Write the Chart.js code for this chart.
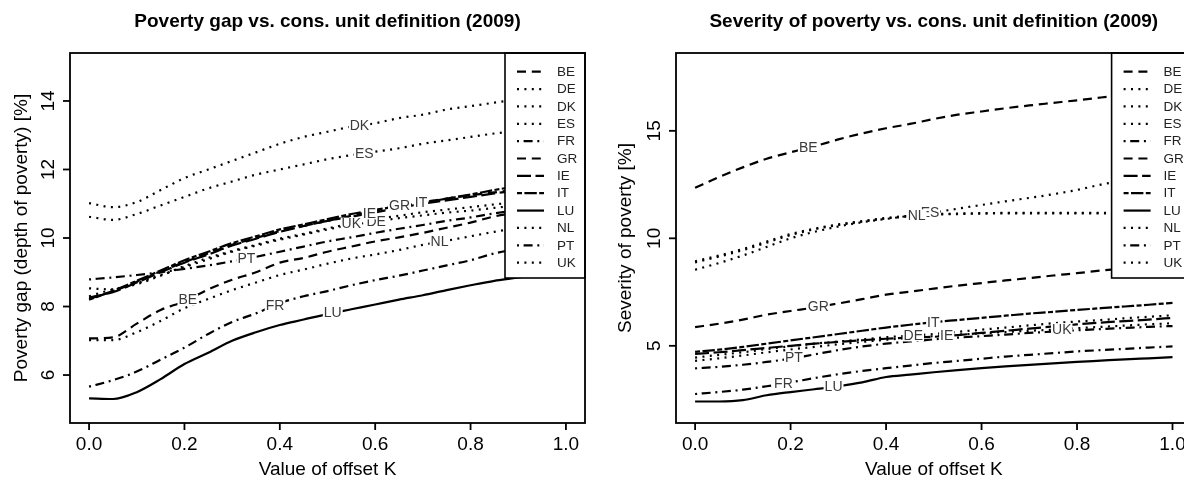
<!DOCTYPE html>
<html lang="en">
<head>
<meta charset="UTF-8">
<title>Poverty gap and severity of poverty vs. cons. unit definition (2009)</title>
<script src="https://cdn.jsdelivr.net/npm/chart.js"></script>
<style>
  html, body { margin: 0; padding: 0; background: #fff; width: 1184px; height: 483px; overflow: hidden; }
  canvas { position: absolute; top: 0; }
  #gapChart { left: 0; }
  #sevChart { left: 592px; }
</style>
</head>
<body>
<canvas id="gapChart" width="592" height="483"></canvas>
<canvas id="sevChart" width="620" height="483"></canvas>

<script>
// value of offset K (x axis)
const kValues = [0, 0.05, 0.1, 0.15, 0.2, 0.25, 0.3, 0.35, 0.4, 0.45, 0.5,
                 0.55, 0.6, 0.65, 0.7, 0.75, 0.8, 0.85, 0.9, 0.95, 1];
const kTicks = [0, 0.2, 0.4, 0.6, 0.8, 1.0];

const countries = ['BE', 'DE', 'DK', 'ES', 'FR', 'GR', 'IE', 'IT', 'LU', 'NL', 'PT', 'UK'];
const lineTypes = ['dashed', 'dotted', 'dotted', 'dotted', 'dotdash', 'dashed',
                   'longdash', 'twodash', 'solid', 'dotted', 'dotdash', 'dotted'];

// poverty gap (depth of poverty) [%]
const gapBE = [7.07, 7.1, 7.5, 7.9, 8.15, 8.5, 8.78, 9.0, 9.28, 9.42, 9.6, 9.75, 9.9, 10.02, 10.15, 10.3, 10.45, 10.63, 10.75, 10.87, 11.0];
const gapDE = [8.53, 8.5, 8.68, 8.92, 9.15, 9.38, 9.6, 9.78, 9.95, 10.1, 10.25, 10.38, 10.48, 10.58, 10.66, 10.74, 10.8, 10.88, 10.95, 11.02, 11.1];
const gapDK = [11.02, 10.9, 11.05, 11.4, 11.75, 12.0, 12.25, 12.5, 12.75, 12.95, 13.1, 13.25, 13.35, 13.5, 13.6, 13.75, 13.85, 13.95, 14.05, 14.15, 14.25];
const gapES = [10.62, 10.53, 10.7, 10.95, 11.2, 11.45, 11.65, 11.85, 12.0, 12.15, 12.3, 12.42, 12.52, 12.62, 12.75, 12.85, 12.95, 13.05, 13.12, 13.2, 13.28];
const gapFR = [5.66, 5.85, 6.1, 6.45, 6.8, 7.2, 7.55, 7.8, 8.1, 8.3, 8.45, 8.62, 8.77, 8.9, 9.05, 9.2, 9.35, 9.55, 9.68, 9.8, 9.92];
const gapGR = [8.22, 8.45, 8.72, 9.02, 9.3, 9.55, 9.8, 10.0, 10.2, 10.35, 10.5, 10.65, 10.8, 10.95, 11.05, 11.15, 11.25, 11.33, 11.42, 11.5, 11.6];
const gapIE = [8.26, 8.42, 8.7, 9.0, 9.28, 9.52, 9.78, 9.98, 10.18, 10.35, 10.5, 10.62, 10.75, 10.88, 11.0, 11.1, 11.2, 11.3, 11.4, 11.5, 11.6];
const gapIT = [8.2, 8.45, 8.75, 9.05, 9.35, 9.6, 9.85, 10.05, 10.25, 10.4, 10.55, 10.7, 10.82, 10.93, 11.03, 11.15, 11.27, 11.4, 11.52, 11.63, 11.75];
const gapLU = [5.32, 5.3, 5.5, 5.88, 6.32, 6.65, 7.0, 7.25, 7.46, 7.62, 7.78, 7.92, 8.06, 8.2, 8.33, 8.48, 8.62, 8.75, 8.85, 8.98, 9.1];
const gapNL = [7.02, 7.02, 7.25, 7.58, 7.95, 8.22, 8.48, 8.7, 8.92, 9.08, 9.25, 9.4, 9.52, 9.65, 9.8, 9.92, 10.05, 10.18, 10.3, 10.42, 10.52];
const gapPT = [8.79, 8.85, 8.92, 9.0, 9.1, 9.2, 9.32, 9.45, 9.6, 9.75, 9.9, 10.02, 10.15, 10.27, 10.38, 10.5, 10.6, 10.72, 10.82, 10.92, 11.02];
const gapUK = [8.3, 8.5, 8.65, 8.9, 9.18, 9.42, 9.62, 9.8, 9.98, 10.12, 10.28, 10.42, 10.55, 10.65, 10.75, 10.83, 10.9, 10.98, 11.05, 11.12, 11.2];
const gapTicks = [6, 8, 10, 12, 14];
// where each country's name sits on its curve (K value)
const gapLabelK = [0.207, 0.602, 0.567, 0.577, 0.39, 0.651, 0.588, 0.696, 0.511, 0.735, 0.33, 0.55];

// severity of poverty [%]
const sevBE = [12.35, 12.85, 13.3, 13.7, 14.0, 14.28, 14.6, 14.88, 15.12, 15.32, 15.55, 15.75, 15.9, 16.05, 16.18, 16.3, 16.42, 16.55, 16.68, 16.8, 16.92];
const sevDE = [4.45, 4.58, 4.7, 4.85, 4.98, 5.1, 5.2, 5.3, 5.4, 5.47, 5.55, 5.65, 5.75, 5.85, 5.95, 6.05, 6.13, 6.2, 6.28, 6.35, 6.42];
const sevDK = [8.88, 9.15, 9.45, 9.8, 10.15, 10.42, 10.62, 10.78, 10.92, 11.02, 11.1, 11.13, 11.15, 11.16, 11.16, 11.16, 11.16, 11.16, 11.15, 11.14, 11.13];
const sevES = [8.54, 8.85, 9.2, 9.6, 10.0, 10.3, 10.55, 10.75, 10.9, 11.05, 11.2, 11.38, 11.55, 11.72, 11.88, 12.05, 12.25, 12.5, 12.7, 12.88, 13.05];
const sevFR = [2.76, 2.85, 2.96, 3.12, 3.3, 3.5, 3.68, 3.83, 3.96, 4.08, 4.2, 4.3, 4.4, 4.5, 4.58, 4.66, 4.74, 4.8, 4.86, 4.92, 4.97];
const sevGR = [5.87, 6.03, 6.22, 6.45, 6.62, 6.78, 6.97, 7.17, 7.38, 7.52, 7.66, 7.8, 7.92, 8.04, 8.15, 8.27, 8.38, 8.5, 8.6, 8.7, 8.8];
const sevIE = [4.62, 4.7, 4.8, 4.9, 5.0, 5.1, 5.18, 5.26, 5.33, 5.38, 5.42, 5.5, 5.6, 5.7, 5.8, 5.9, 6.0, 6.08, 6.15, 6.22, 6.3];
const sevIT = [4.72, 4.82, 4.95, 5.1, 5.25, 5.4, 5.55, 5.7, 5.85, 5.98, 6.1, 6.2, 6.3, 6.4, 6.5, 6.58, 6.67, 6.75, 6.83, 6.91, 7.0];
const sevLU = [2.41, 2.41, 2.47, 2.7, 2.85, 2.98, 3.12, 3.3, 3.55, 3.66, 3.77, 3.87, 3.96, 4.04, 4.11, 4.18, 4.25, 4.31, 4.37, 4.42, 4.47];
const sevNL = [8.93, 9.2, 9.5, 9.85, 10.2, 10.45, 10.65, 10.8, 10.95, 11.05, 11.12, 11.15, 11.17, 11.18, 11.18, 11.18, 11.18, 11.18, 11.17, 11.16, 11.15];
const sevPT = [3.95, 4.02, 4.12, 4.25, 4.4, 4.6, 4.8, 4.97, 5.1, 5.2, 5.3, 5.38, 5.45, 5.52, 5.6, 5.66, 5.72, 5.78, 5.83, 5.88, 5.92];
const sevUK = [4.3, 4.42, 4.55, 4.7, 4.83, 4.95, 5.07, 5.18, 5.28, 5.37, 5.45, 5.52, 5.58, 5.64, 5.7, 5.75, 5.82, 5.88, 5.94, 6.0, 6.05];
const sevTicks = [5, 10, 15];
const sevLabelK = [0.237, 0.457, null, 0.492, 0.185, 0.258, 0.527, 0.499, 0.29, 0.464, 0.207, 0.768];

// R line types drawn at this device size
const dashes = {
  solid: [],
  dashed: [9, 5.8],
  dotted: [2, 5.4],
  dotdash: [2, 4.6, 9, 4.7],
  longdash: [14, 4.5],
  twodash: [5, 2.4, 12.4, 2.4]
};

const FONT = '"Liberation Sans", Arial, sans-serif';
const LINE_W = 2.2;

function valueAt(series, k) {
  for (let i = 0; i < kValues.length - 1; i++) {
    if (k >= kValues[i] && k <= kValues[i + 1]) {
      const t = (k - kValues[i]) / (kValues[i + 1] - kValues[i]);
      return series[i] + t * (series[i + 1] - series[i]);
    }
  }
  return series[series.length - 1];
}

// base-graphics look: box, outward ticks, rotated y labels, legend, names on curves
const rStyle = {
  id: 'rStyle',
  afterDatasetsDraw(chart, args, opts) {
    const { ctx, chartArea: a, scales: { x, y } } = chart;
    ctx.save();

    // names on the curves
    ctx.font = '14px ' + FONT;
    ctx.textAlign = 'center';
    ctx.textBaseline = 'middle';
    countries.forEach((c, i) => {
      const k = opts.labelK[i];
      if (k === null) return;
      const px = x.getPixelForValue(k);
      const py = y.getPixelForValue(valueAt(opts.series[i], k));
      const w = ctx.measureText(c).width;
      ctx.fillStyle = '#fff';
      ctx.fillRect(px - w / 2 - 1, py - 6, w + 2, 12);
      ctx.fillStyle = '#3a3a3a';
      ctx.fillText(c, px, py + 0.5);
    });

    // legend
    const lw = 80, lh = 225;
    const lx = a.right - lw, ly = a.top;
    ctx.fillStyle = '#fff';
    ctx.fillRect(lx, ly, lw, lh);
    ctx.strokeStyle = '#000';
    ctx.lineWidth = 1.6;
    ctx.strokeRect(lx, ly, lw, lh);
    ctx.font = '13.5px ' + FONT;
    ctx.textAlign = 'left';
    countries.forEach((c, i) => {
      const ry = ly + 18.7 + i * 17.36;
      ctx.beginPath();
      ctx.setLineDash(dashes[lineTypes[i]]);
      ctx.lineWidth = LINE_W;
      ctx.moveTo(lx + 12, ry);
      ctx.lineTo(lx + 39, ry);
      ctx.stroke();
      ctx.setLineDash([]);
      ctx.fillStyle = '#222';
      ctx.fillText(c, lx + 52, ry + 0.5);
    });

    // box
    ctx.lineWidth = 1.8;
    ctx.strokeStyle = '#000';
    ctx.strokeRect(a.left, a.top, a.width, a.height);

    // x axis
    ctx.font = '19px ' + FONT;
    ctx.fillStyle = '#000';
    ctx.textAlign = 'center';
    ctx.textBaseline = 'middle';
    kTicks.forEach(k => {
      const px = x.getPixelForValue(k);
      ctx.beginPath();
      ctx.moveTo(px, a.bottom);
      ctx.lineTo(px, a.bottom + 7);
      ctx.stroke();
      ctx.fillText(k.toFixed(1), px, a.bottom + 22);
    });
    const cx = (a.left + a.right) / 2;
    ctx.fillText('Value of offset K', cx, a.bottom + 47);

    // y axis
    opts.yTicks.forEach(v => {
      const py = y.getPixelForValue(v);
      ctx.beginPath();
      ctx.moveTo(a.left, py);
      ctx.lineTo(a.left - 7, py);
      ctx.stroke();
      ctx.save();
      ctx.translate(a.left - 21, py);
      ctx.rotate(-Math.PI / 2);
      ctx.fillText(String(v), 0, 0);
      ctx.restore();
    });
    ctx.save();
    ctx.translate(a.left - opts.yTitleOffset, (a.top + a.bottom) / 2);
    ctx.rotate(-Math.PI / 2);
    ctx.fillText(opts.yTitle, 0, 0);
    ctx.restore();

    // main title
    ctx.font = 'bold 19px ' + FONT;
    ctx.fillText(opts.title, cx, 22);

    ctx.restore();
  }
};

function makeChart(id, seriesList, cfg) {
  const datasets = countries.map((c, i) => ({
    label: c,
    data: kValues.map((k, j) => ({ x: k, y: seriesList[i][j] })),
    borderColor: '#000',
    borderWidth: LINE_W,
    borderDash: dashes[lineTypes[i]],
    pointRadius: 0,
    fill: false,
    cubicInterpolationMode: 'monotone'
  }));

  return new Chart(document.getElementById(id), {
    type: 'line',
    data: { datasets: datasets },
    options: {
      responsive: false,
      animation: false,
      devicePixelRatio: 1,
      layout: { padding: cfg.padding },
      scales: {
        x: { type: 'linear', min: -0.04, max: 1.04, display: false },
        y: { type: 'linear', min: cfg.yMin, max: cfg.yMax, display: false }
      },
      plugins: {
        legend: { display: false },
        tooltip: { enabled: false },
        rStyle: {
          series: seriesList,
          labelK: cfg.labelK,
          yTicks: cfg.yTicks,
          title: cfg.title,
          yTitle: cfg.yTitle,
          yTitleOffset: cfg.yTitleOffset
        }
      }
    },
    plugins: [rStyle]
  });
}

makeChart('gapChart',
  [gapBE, gapDE, gapDK, gapES, gapFR, gapGR, gapIE, gapIT, gapLU, gapNL, gapPT, gapUK],
  {
    padding: { left: 70, right: 7, top: 53, bottom: 60 },
    yMin: 4.6, yMax: 15.4,
    yTicks: gapTicks,
    labelK: gapLabelK,
    title: 'Poverty gap vs. cons. unit definition (2009)',
    yTitle: 'Poverty gap (depth of poverty) [%]',
    yTitleOffset: 48
  });

makeChart('sevChart',
  [sevBE, sevDE, sevDK, sevES, sevFR, sevGR, sevIE, sevIT, sevLU, sevNL, sevPT, sevUK],
  {
    padding: { left: 84, right: 20.4, top: 53, bottom: 60 },
    yMin: 1.41, yMax: 18.62,
    yTicks: sevTicks,
    labelK: sevLabelK,
    title: 'Severity of poverty vs. cons. unit definition (2009)',
    yTitle: 'Severity of poverty [%]',
    yTitleOffset: 50
  });
</script>
</body>
</html>
